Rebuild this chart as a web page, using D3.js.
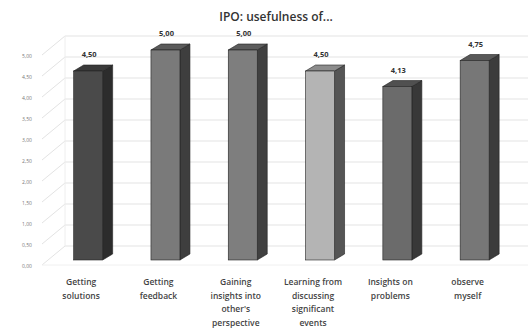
<!DOCTYPE html>
<html>
<head>
<meta charset="utf-8">
<script src="https://cdn.jsdelivr.net/npm/d3@7"></script>
<style>
  html, body { margin: 0; padding: 0; background: #fff; }
  svg { display: block; font-family: "Open Sans", "DejaVu Sans", sans-serif; }
</style>
</head>
<body>
<svg id="chart" width="528" height="331"></svg>
<script>
// Chart data
const categories = [
  ["Getting", "solutions"],
  ["Getting", "feedback"],
  ["Gaining", "insights into", "other's", "perspective"],
  ["Learning from", "discussing", "significant", "events"],
  ["Insights on", "problems"],
  ["observe", "myself"]
];
const values = [4.50, 5.00, 5.00, 4.50, 4.13, 4.75];
const yTicks = [0, 0.5, 1, 1.5, 2, 2.5, 3, 3.5, 4, 4.5, 5];
const title = "IPO: usefulness of...";

// Face shades per bar: front, side, top
const frontColors = ["#4a4a4a", "#7a7a7a", "#7e7e7e", "#b4b4b4", "#6b6b6b", "#777777"];
const sideColors  = ["#2c2c2c", "#3e3e3e", "#404040", "#555555", "#383838", "#3c3c3c"];
const topColors   = ["#3a3a3a", "#5a5a5a", "#5c5c5c", "#8c8c8c", "#505050", "#585858"];

const fmt = v => d3.format(".2f")(v).replace(".", ",");

const svg = d3.select("#chart");

const x = d3.scaleBand()
  .domain(d3.range(values.length))
  .range([49.5, 513.3])
  .paddingInner(0.625)
  .paddingOuter(0.3125);

const y = d3.scaleLinear().domain([0, 5]).range([260, 50]);

// 3D offsets
const wallDx = 23, wallDy = -14;   // back wall depth
const barDx = 10, barDy = -6;      // bar depth
const wallLeft = 42;

// Back wall gridlines and left side wall diagonals
const grid = svg.append("g").attr("class", "grid");
yTicks.forEach(t => {
  const yy = y(t);
  grid.append("line")
    .attr("x1", wallLeft).attr("y1", yy + 5)
    .attr("x2", wallLeft + wallDx).attr("y2", yy + wallDy)
    .attr("stroke", "#e3e3e3").attr("stroke-width", 1);
  grid.append("line")
    .attr("x1", wallLeft + wallDx).attr("y1", yy + wallDy)
    .attr("x2", 528).attr("y2", yy + wallDy)
    .attr("stroke", "#e3e3e3").attr("stroke-width", 1);
});
// wall corner edge
grid.append("line")
  .attr("x1", wallLeft + wallDx).attr("y1", y(0) + wallDy)
  .attr("x2", wallLeft + wallDx).attr("y2", y(5) + wallDy)
  .attr("stroke", "#eeeeee");
// floor front edge
grid.append("line")
  .attr("x1", wallLeft).attr("y1", y(0) + 5)
  .attr("x2", 528).attr("y2", y(0) + 5)
  .attr("stroke", "#f0f0f0");

// Y axis tick labels
svg.append("g").selectAll("text")
  .data(yTicks)
  .join("text")
  .attr("x", 27).attr("y", d => y(d) + 7)
  .attr("text-anchor", "middle")
  .attr("dominant-baseline", "middle")
  .attr("font-size", 5)
  .attr("fill", "#777")
  .text(d => fmt(d));

// Bars
const bars = svg.append("g").selectAll("g")
  .data(values)
  .join("g");

bars.each(function(v, i) {
  const g = d3.select(this);
  const x0 = x(i), w = x.bandwidth();
  const yt = y(v), yb = y(0);
  // side face
  g.append("path")
    .attr("d", `M${x0 + w},${yt} L${x0 + w + barDx},${yt + barDy} L${x0 + w + barDx},${yb + barDy} L${x0 + w},${yb} Z`)
    .attr("fill", sideColors[i]).attr("stroke", "#222").attr("stroke-width", 0.6);
  // top face
  g.append("path")
    .attr("d", `M${x0},${yt} L${x0 + barDx},${yt + barDy} L${x0 + w + barDx},${yt + barDy} L${x0 + w},${yt} Z`)
    .attr("fill", topColors[i]).attr("stroke", "#222").attr("stroke-width", 0.6);
  // front face
  g.append("rect")
    .attr("x", x0).attr("y", yt)
    .attr("width", w).attr("height", yb - yt)
    .attr("fill", frontColors[i]).attr("stroke", "#222").attr("stroke-width", 0.6);
});

// Value labels
svg.append("g").selectAll("text")
  .data(values)
  .join("text")
  .attr("x", (d, i) => x(i) + x.bandwidth() / 2 + 1)
  .attr("y", d => y(d) - 14)
  .attr("text-anchor", "middle")
  .attr("font-size", 7.5)
  .attr("font-weight", "bold")
  .attr("fill", "#333")
  .text(d => fmt(d));

// Category labels
const cat = svg.append("g").selectAll("text")
  .data(categories)
  .join("text")
  .attr("text-anchor", "middle")
  .attr("font-size", 8.5)
  .attr("font-weight", "600")
  .attr("fill", "#444");
cat.each(function(lines, i) {
  const t = d3.select(this);
  const cx = x(i) + x.bandwidth() / 2 - 7;
  lines.forEach((ln, k) => {
    t.append("tspan").attr("x", cx).attr("y", 285 + k * 13.5).text(ln);
  });
});

// Title
svg.append("text")
  .attr("x", 276).attr("y", 21)
  .attr("text-anchor", "middle")
  .attr("font-size", 12)
  .attr("font-weight", "600")
  .attr("fill", "#333")
  .text(title);
</script>
</body>
</html>
